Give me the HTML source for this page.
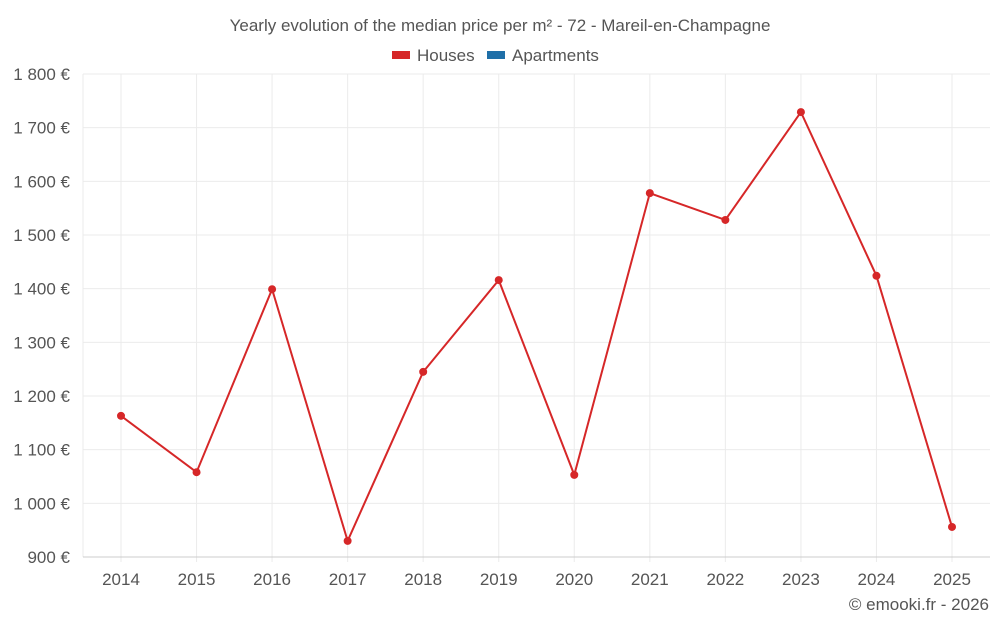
<!DOCTYPE html>
<html><head><meta charset="utf-8"><style>
body{margin:0;background:#fff;font-family:"Liberation Sans",sans-serif;}
svg text{font-family:"Liberation Sans",sans-serif;}
</style></head><body>
<svg id="chart" width="1000" height="625" xmlns="http://www.w3.org/2000/svg">
<text x="500" y="31" text-anchor="middle" font-size="17" fill="#555">Yearly evolution of the median price per m² - 72 - Mareil-en-Champagne</text>
<g>
<rect x="392" y="51" width="18" height="8" fill="#d62728"/>
<text x="417" y="61" font-size="17" fill="#555">Houses</text>
<rect x="487" y="51" width="18" height="8" fill="#1f6fa8"/>
<text x="512" y="61" font-size="17" fill="#555">Apartments</text>
</g>
<g id="grid"></g><g id="axes"></g><g id="series"></g>
<text x="989" y="610" text-anchor="end" font-size="17" fill="#555">© emooki.fr - 2026</text>
</svg>
<script>
const years=["2014","2015","2016","2017","2018","2019","2020","2021","2022","2023","2024","2025"];
const houses=[1163,1058,1399,930,1245,1416,1053,1578,1528,1729,1424,956];
const yTicks=[900,1000,1100,1200,1300,1400,1500,1600,1700,1800];
const NS="http://www.w3.org/2000/svg";
const L=83,R=990,T=74,B=557,yMin=900,yMax=1800;
const x0=121,step=(952-121)/11;
const xs=i=>x0+i*step;
const ys=v=>B-(v-yMin)/(yMax-yMin)*(B-T);
function mk(t,a,p){const e=document.createElementNS(NS,t);for(const k in a)e.setAttribute(k,a[k]);p.appendChild(e);return e;}
const g=document.getElementById('grid'),ax=document.getElementById('axes'),s=document.getElementById('series');
mk('line',{x1:L,x2:L,y1:T,y2:B,stroke:'#ebebeb'},g);
years.forEach((y,i)=>{
 const l=mk('line',{x1:xs(i),x2:xs(i),y1:T,y2:B+5,stroke:'#ebebeb'},g);
 
 
 const t=mk('text',{x:xs(i),y:585,'text-anchor':'middle','font-size':17,fill:'#555'},ax);
 t.textContent=y;
 
 
});
yTicks.forEach(v=>{
 const l=mk('line',{x1:L,x2:R,y1:ys(v),y2:ys(v),stroke:v===yMin?'#ccc':'#ebebeb'},g);
 
 
 const t=mk('text',{x:70,y:ys(v)+6,'text-anchor':'end','font-size':17,fill:'#555'},ax);
 t.textContent=v.toLocaleString('fr-FR').replace(/\u202f|\u00a0/g,' ')+' €';
 
 
});
const p=mk('polyline',{points:houses.map((v,i)=>xs(i)+','+ys(v)).join(' '),fill:'none',stroke:'#d62728','stroke-width':2},s);


houses.forEach((v,i)=>{
 const c=mk('circle',{cx:xs(i),cy:ys(v),r:4,fill:'#d62728'},s);
 
 
});
</script>
</body></html>
